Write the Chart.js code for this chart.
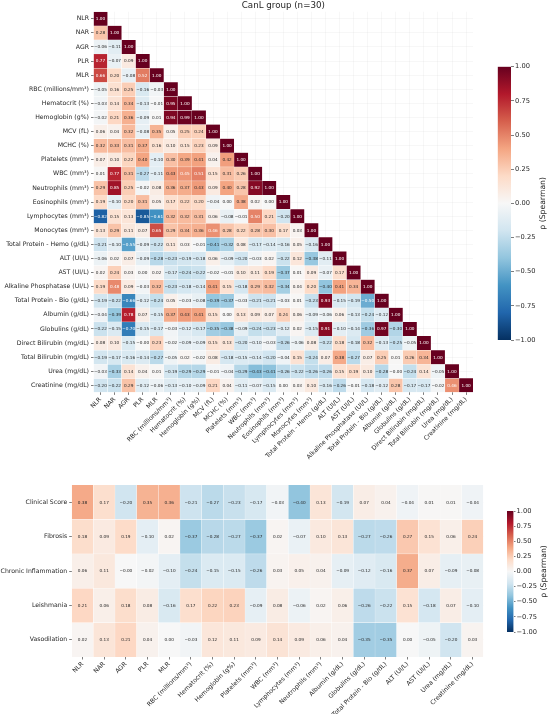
<!DOCTYPE html>
<html>
<head>
<meta charset="utf-8">
<script src="https://cdn.jsdelivr.net/npm/chart.js@4.4.1/dist/chart.umd.min.js"></script>
<style>
  html, body { margin: 0; padding: 0; background: #fff; }
  body { width: 550px; height: 714px; position: relative; overflow: hidden; }
  canvas { position: absolute; }
</style>
</head>
<body>
<canvas id="topHeat" style="left:0;top:0" width="490" height="470"></canvas>
<canvas id="topBar" style="left:490px;top:60px" width="60" height="290"></canvas>
<canvas id="bottomHeat" style="left:0;top:470px" width="490" height="244"></canvas>
<canvas id="bottomBar" style="left:500px;top:500px" width="50" height="145"></canvas>
<script>
// ---- data ----
const chartTitle = 'CanL group (n=30)';
const cbTitle = 'ρ (Spearman)';

const topLabels = ['NLR', 'NAR', 'AGR', 'PLR', 'MLR', 'RBC (millions/mm³)', 'Hematocrit (%)',
  'Hemoglobin (g%)', 'MCV (fL)', 'MCHC (%)', 'Platelets (mm³)', 'WBC (mm³)', 'Neutrophils (mm³)',
  'Eosinophils (mm³)', 'Lymphocytes (mm³)', 'Monocytes (mm³)', 'Total Protein - Hemo (g/dL)',
  'ALT (UI/L)', 'AST (UI/L)', 'Alkaline Phosphatase (UI/L)', 'Total Protein - Bio (g/dL)',
  'Albumin (g/dL)', 'Globulins (g/dL)', 'Direct Bilirubin (mg/dL)', 'Total Bilirubin (mg/dL)',
  'Urea (mg/dL)', 'Creatinine (mg/dL)'];

// lower triangle, one row per variable
const topValues = [
  [1.00],
  [0.28, 1.00],
  [-0.06, -0.11, 1.00],
  [0.77, -0.07, 0.09, 1.00],
  [0.66, 0.20, -0.08, 0.52, 1.00],
  [-0.05, 0.16, 0.25, -0.16, -0.03, 1.00],
  [-0.03, 0.14, 0.34, -0.13, -0.01, 0.95, 1.00],
  [-0.02, 0.21, 0.36, -0.09, 0.01, 0.94, 0.99, 1.00],
  [0.06, 0.04, 0.32, -0.08, 0.35, 0.05, 0.25, 0.24, 1.00],
  [0.32, 0.33, 0.31, 0.37, 0.16, 0.10, 0.15, 0.23, 0.09, 1.00],
  [0.07, 0.10, 0.22, 0.40, -0.10, 0.30, 0.39, 0.41, 0.04, 0.42, 1.00],
  [0.01, 0.77, 0.31, -0.27, -0.11, 0.43, 0.45, 0.51, 0.15, 0.31, 0.26, 1.00],
  [0.29, 0.85, 0.25, -0.02, 0.08, 0.36, 0.37, 0.43, 0.09, 0.40, 0.28, 0.92, 1.00],
  [0.19, -0.10, 0.20, 0.31, 0.05, 0.17, 0.22, 0.20, -0.04, 0.00, 0.38, 0.02, 0.00, 1.00],
  [-0.82, 0.15, 0.13, -0.85, -0.61, 0.32, 0.32, 0.31, 0.06, -0.08, -0.01, 0.50, 0.21, -0.20, 1.00],
  [0.13, 0.29, 0.11, 0.07, 0.65, 0.29, 0.34, 0.36, 0.46, 0.28, 0.22, 0.28, 0.30, 0.17, 0.03, 1.00],
  [-0.21, -0.10, -0.55, -0.09, -0.22, 0.11, 0.03, -0.01, -0.41, -0.32, 0.08, -0.17, -0.14, -0.16, 0.05, -0.16, 1.00],
  [-0.06, 0.02, 0.07, -0.09, -0.28, -0.23, -0.19, -0.18, 0.06, -0.09, -0.20, -0.03, 0.02, -0.22, 0.12, -0.38, -0.11, 1.00],
  [0.02, 0.24, 0.03, 0.00, 0.02, -0.17, -0.24, -0.22, -0.02, -0.01, 0.10, 0.11, 0.19, -0.37, 0.01, 0.09, -0.07, 0.17, 1.00],
  [0.19, 0.48, 0.09, -0.03, 0.32, -0.23, -0.18, -0.14, 0.41, 0.15, -0.18, 0.29, 0.32, -0.34, 0.04, 0.20, -0.40, 0.41, 0.34, 1.00],
  [-0.19, -0.22, -0.66, -0.12, -0.24, 0.05, -0.03, -0.08, -0.39, -0.37, -0.03, -0.21, -0.21, -0.03, 0.01, -0.23, 0.93, -0.15, -0.19, -0.50, 1.00],
  [-0.04, -0.39, 0.78, 0.07, -0.15, 0.37, 0.43, 0.41, 0.15, 0.00, 0.13, 0.09, 0.07, 0.24, 0.06, -0.09, -0.06, 0.06, -0.13, -0.24, -0.12, 1.00],
  [-0.22, -0.15, -0.70, -0.15, -0.17, -0.03, -0.12, -0.17, -0.35, -0.38, -0.09, -0.24, -0.23, -0.12, 0.02, -0.15, 0.91, -0.10, -0.14, -0.36, 0.97, -0.30, 1.00],
  [0.08, 0.10, -0.15, -0.00, 0.23, -0.02, -0.09, -0.09, 0.15, 0.13, -0.20, -0.10, -0.03, -0.26, -0.06, 0.08, -0.22, 0.18, -0.18, 0.32, -0.13, -0.25, -0.05, 1.00],
  [-0.19, -0.17, -0.16, -0.14, -0.27, -0.05, 0.02, -0.02, 0.08, -0.18, -0.15, -0.14, -0.20, -0.04, 0.15, -0.24, 0.07, 0.38, -0.27, 0.07, 0.25, 0.01, 0.26, 0.34, 1.00],
  [-0.03, -0.33, 0.14, 0.04, 0.01, -0.19, -0.29, -0.29, -0.01, -0.04, -0.29, -0.43, -0.41, -0.26, -0.22, -0.26, -0.26, 0.15, 0.19, 0.10, -0.28, -0.00, -0.24, 0.14, -0.05, 1.00],
  [-0.20, -0.22, 0.29, -0.12, -0.06, -0.13, -0.10, -0.09, 0.21, 0.04, -0.11, -0.07, -0.15, 0.00, 0.03, 0.10, -0.16, -0.26, -0.01, -0.18, -0.12, 0.28, -0.17, -0.17, -0.02, 0.46, 1.00]
];

const bottomCols = ['NLR', 'NAR', 'AGR', 'PLR', 'MLR', 'RBC (millions/mm³)', 'Hematocrit (%)',
  'Hemoglobin (g%)', 'Platelets (mm³)', 'WBC (mm³)', 'Lymphocytes (mm³)', 'Neutrophils (mm³)',
  'Albumin (g/dL)', 'Globulins (g/dL)', 'Total Protein - Bio (g/dL)', 'ALT (UI/L)', 'AST (UI/L)',
  'Urea (mg/dL)', 'Creatinine (mg/dL)'];
const bottomRows = ['Clinical Score', 'Fibrosis', 'Chronic Inflammation', 'Leishmania', 'Vasodilation'];

const clinicalScore = [0.38, 0.17, -0.20, 0.35, 0.36, -0.21, -0.27, -0.23, -0.17, -0.03, -0.40, 0.13, -0.19, 0.07, 0.04, -0.04, 0.01, 0.01, -0.04];
const fibrosis = [0.18, 0.09, 0.19, -0.10, 0.02, -0.37, -0.28, -0.27, -0.37, 0.02, -0.07, 0.10, 0.13, -0.27, -0.26, 0.27, 0.15, 0.06, 0.24];
const chronicInflammation = [0.06, 0.11, -0.00, -0.02, -0.10, -0.24, -0.15, -0.15, -0.26, 0.03, 0.05, 0.04, -0.09, -0.12, -0.16, 0.37, 0.07, -0.09, -0.08];
const leishmania = [0.21, 0.06, 0.18, 0.08, -0.16, 0.17, 0.22, 0.23, -0.09, 0.08, -0.06, 0.02, 0.06, -0.26, -0.22, 0.15, -0.18, 0.07, -0.10];
const vasodilation = [0.02, 0.13, 0.21, 0.04, 0.00, -0.03, 0.12, 0.11, 0.09, 0.14, 0.09, 0.06, 0.04, -0.35, -0.35, 0.00, -0.05, -0.20, 0.03];

const cbTicksStep = 0.25;

// ---- colour helpers (RdBu_r) ----
const rdbuStops = ['#053061', '#2166ac', '#4393c3', '#92c5de', '#d1e5f0', '#f7f7f7',
  '#fddbc7', '#f4a582', '#d6604d', '#b2182b', '#67001f'];
const rdbuRgb = rdbuStops.map(h => [1, 3, 5].map(k => parseInt(h.substr(k, 2), 16)));

function rdbu(v) {
  const t = (Math.max(-1, Math.min(1, v)) + 1) / 2 * 10;
  const i = Math.min(9, Math.floor(t));
  const f = t - i;
  const a = rdbuRgb[i], b = rdbuRgb[i + 1];
  return [0, 1, 2].map(k => Math.round(a[k] + (b[k] - a[k]) * f));
}
function rgbStr(c) { return `rgb(${c[0]},${c[1]},${c[2]})`; }
function textColor(v) {
  const lin = rdbu(v).map(c => {
    c /= 255;
    return c <= 0.03928 ? c / 12.92 : Math.pow((c + 0.055) / 1.055, 2.4);
  });
  const lum = 0.2126 * lin[0] + 0.7152 * lin[1] + 0.0722 * lin[2];
  return lum > 0.408 ? '#262626' : '#ffffff';
}
function fmt(v) {
  const neg = v < 0 || Object.is(v, -0);
  return (neg ? '\u2212' : '') + Math.abs(v).toFixed(2);
}

Chart.defaults.font.family = '"DejaVu Sans", sans-serif';
Chart.defaults.color = '#262626';
const tickFont = { size: 6.2 };
const cbTickFont = { size: 6.7 };
const gridColor = 'rgba(0,0,0,0.06)';

// cell annotation plugin
const cellText = {
  id: 'cellText',
  afterDatasetsDraw(chart, args, opts) {
    const ctx = chart.ctx;
    ctx.save();
    ctx.font = `${opts.size}px "DejaVu Sans"`;
    ctx.textAlign = 'center';
    ctx.textBaseline = 'middle';
    chart.data.datasets.forEach((ds, i) => {
      chart.getDatasetMeta(i).data.forEach((bar, j) => {
        const v = ds.values[j];
        if (v === undefined || v === null) return;
        const p = bar.getCenterPoint();
        ctx.fillStyle = textColor(v);
        ctx.fillText(fmt(v), p.x, p.y + 0.3);
      });
    });
    ctx.restore();
  }
};

// vertical colorbar label (reads bottom to top)
const cbLabel = {
  id: 'cbLabel',
  afterDraw(chart, args, opts) {
    const { ctx, chartArea } = chart;
    ctx.save();
    ctx.translate(opts.x, (chartArea.top + chartArea.bottom) / 2);
    ctx.rotate(-Math.PI / 2);
    ctx.font = '7.7px "DejaVu Sans"';
    ctx.fillStyle = '#262626';
    ctx.textAlign = 'center';
    ctx.textBaseline = 'middle';
    ctx.fillText(opts.text, 0, 0);
    ctx.restore();
  }
};

function heatDatasets(rows, values, nCols) {
  return values.map((row, i) => ({
    label: rows[i],
    values: row,
    data: Array.from({ length: nCols }, (_, j) => row[j] == null ? null : [i - 0.5, i + 0.5]),
    backgroundColor: Array.from({ length: nCols }, (_, j) => row[j] == null ? 'rgba(0,0,0,0)' : rgbStr(rdbu(row[j]))),
    borderColor: '#ffffff',
    borderWidth: 0.4,
    borderSkipped: false,
    grouped: false,
    barPercentage: 1,
    categoryPercentage: 1
  }));
}

function heatOptions(rows, cfg) {
  return {
    responsive: false,
    animation: false,
    layout: { padding: cfg.padding },
    plugins: {
      legend: { display: false },
      tooltip: { enabled: false },
      title: cfg.title || { display: false },
      cellText: { size: 4.2 }
    },
    scales: {
      x: {
        type: 'category',
        offset: true,
        border: { display: false },
        grid: { offset: false, color: gridColor, lineWidth: 0.6, tickColor: '#262626', tickLength: 2.5, tickWidth: 0.6 },
        ticks: { autoSkip: false, maxRotation: 45, minRotation: 45, padding: 1, font: tickFont },
        afterFit: s => { s.height = cfg.xHeight; }
      },
      y: {
        type: 'linear',
        reverse: true,
        min: -0.5,
        max: rows.length - 0.5,
        border: { display: false },
        grid: { color: gridColor, lineWidth: 0.6, tickColor: '#262626', tickLength: 2.5, tickWidth: 0.6 },
        afterBuildTicks: s => { s.ticks = rows.map((_, i) => ({ value: i })); },
        ticks: { autoSkip: false, padding: 2, font: tickFont, callback: v => rows[v] },
        afterFit: s => { s.width = cfg.yWidth; }
      }
    }
  };
}

function colorbar(id, cfg) {
  new Chart(document.getElementById(id), {
    type: 'bar',
    data: {
      labels: [''],
      datasets: [{
        data: [[-1, 1]],
        backgroundColor: c => {
          const ca = c.chart.chartArea;
          if (!ca) return '#f7f7f7';
          const g = c.chart.ctx.createLinearGradient(0, ca.bottom, 0, ca.top);
          rdbuStops.forEach((col, i) => g.addColorStop(i / 10, col));
          return g;
        },
        borderWidth: 0,
        barPercentage: 1,
        categoryPercentage: 1
      }]
    },
    options: {
      responsive: false,
      animation: false,
      layout: { padding: cfg.padding },
      plugins: {
        legend: { display: false },
        tooltip: { enabled: false },
        cbLabel: { text: cbTitle, x: cfg.labelX }
      },
      scales: {
        x: { display: false },
        y: {
          position: 'right',
          min: -1,
          max: 1,
          border: { display: false },
          grid: { drawOnChartArea: false, drawTicks: true, tickLength: cfg.tickLength, tickColor: '#262626', tickWidth: 0.6 },
          ticks: { stepSize: cbTicksStep, padding: 1, font: cbTickFont, callback: v => fmt(v) },
          afterFit: s => { s.width = cfg.axisWidth; }
        }
      }
    },
    plugins: [cbLabel]
  });
}

// ---- top: lower-triangle correlation matrix ----
new Chart(document.getElementById('topHeat'), {
  type: 'bar',
  data: { labels: topLabels, datasets: heatDatasets(topLabels, topValues, topLabels.length) },
  options: heatOptions(topLabels, {
    padding: { left: 0, right: 16.9, top: 0, bottom: 0 },
    yWidth: 93.5,
    xHeight: 77.6,
    title: {
      display: true,
      text: chartTitle,
      fullSize: false,
      color: '#262626',
      font: { size: 8.7, weight: 'normal', lineHeight: 1.0 },
      padding: { top: 1.6, bottom: 1.4 }
    }
  }),
  plugins: [cellText]
});
colorbar('topBar', { padding: { left: 7.7, top: 6.7, bottom: 10, right: 0 }, axisWidth: 39, tickLength: 3, labelX: 53.5 });

// ---- bottom: clinical / histology vs blood parameters ----
const bottomValues = [clinicalScore, fibrosis, chronicInflammation, leishmania, vasodilation];
new Chart(document.getElementById('bottomHeat'), {
  type: 'bar',
  data: { labels: bottomCols, datasets: heatDatasets(bottomRows, bottomValues, bottomCols.length) },
  options: heatOptions(bottomRows, {
    padding: { left: 0, right: 6.6, top: 15, bottom: 0 },
    yWidth: 71.7,
    xHeight: 57
  }),
  plugins: [cellText]
});
colorbar('bottomBar', { padding: { left: 7, top: 11, bottom: 13, right: 0 }, axisWidth: 36.5, tickLength: 2, labelX: 44.5 });
</script>
</body>
</html>
